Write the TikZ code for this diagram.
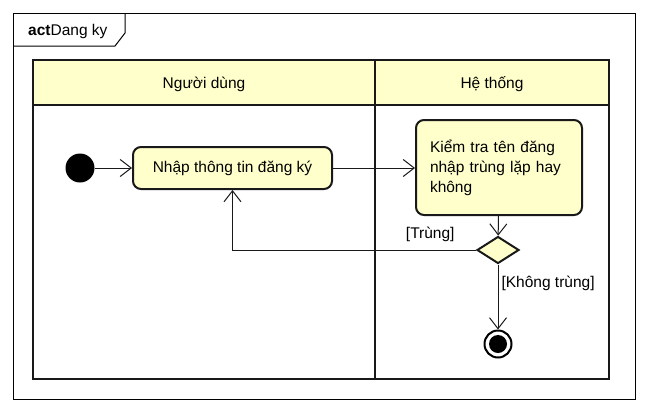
\documentclass[tikz,border=0pt]{standalone}
\usepackage{fontspec}
\setmainfont{Liberation Sans}
\usetikzlibrary{arrows.meta,shapes.geometric}
\definecolor{umlfill}{RGB}{255,255,204}

\begin{document}
\begin{tikzpicture}[x=1pt,y=-1pt,
        font=\fontsize{15.5}{20}\selectfont,
        lane/.style={draw=black!90,line width=2.4pt},
        action/.style={draw=black!90,line width=2pt,fill=umlfill,rounded corners=8pt,inner sep=0pt},
        flow/.style={draw=black!90,line width=1pt,-{Straight Barb[length=11pt,width=17pt]}}]
        \useasboundingbox (0,0) rectangle (648,413);

        \draw[line width=1pt] (13,13) rectangle (635,399);
        \draw[line width=1pt] (13,46) -- (115,46) -- (125,33) -- (125,13);
        \node[anchor=west,inner sep=0pt] (title) at (28,31) {\textbf{act}Dang ky};

        \fill[umlfill] (33,60) rectangle (609,105);
        \draw[lane] (33,60) rectangle (609,379);
        \draw[lane] (33,105) -- (609,105);
        \draw[lane] (375,60) -- (375,379);
        \node (user) at (204,84) {Người dùng};
        \node (system) at (492,84) {Hệ thống};

        \node[circle,fill=black,minimum size=29pt,inner sep=0pt] (start) at (80,168) {};
        \node[action,minimum width=199pt,minimum height=42pt] (enter) at (232.5,168) {Nhập thông tin đăng ký};
        \node[action,minimum width=166pt,minimum height=95pt,text width=138pt,align=left] (check) at (499,167.5) {Kiểm tra tên đăng\\nhập trùng lặp hay\\không};
        \node[diamond,draw=black!90,line width=2pt,fill=umlfill,minimum width=42pt,minimum height=27pt,inner sep=0pt] (decide) at (498,250) {};
        \node[circle,draw=black,line width=2pt,minimum size=27pt,inner sep=0pt] (stop) at (498,344) {};
        \fill (stop) circle (9pt);

        \draw[flow] (start) -- (enter);
        \draw[flow] (enter.east) -- (enter.east -| check.west);
        \draw[flow] (check) -- (decide);
        \draw[flow] (decide.west) -| (enter.south);
        \draw[flow] (decide) -- (stop);

        \node[anchor=east] (dup) at ([xshift=-18pt,yshift=16pt]decide.west) {[Trùng]};
        \node[anchor=west] (nodup) at ([yshift=-19pt]decide.south) {[Không trùng]};
    \end{tikzpicture}
\end{document}
